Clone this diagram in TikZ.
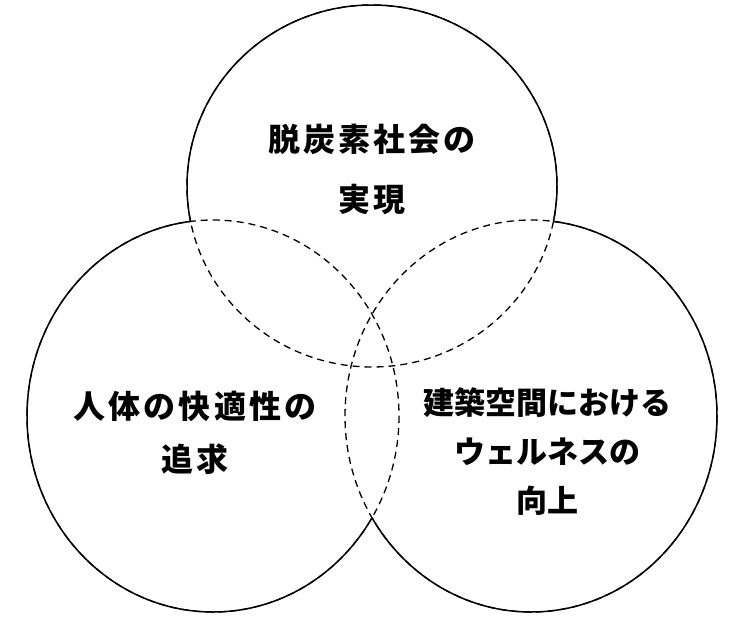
\documentclass[tikz,border=0pt]{standalone}
\usepackage{fontspec}
\usepackage{tikz}
\newfontfamily\jp{Noto Sans CJK JP}[LetterSpace=10]
\newfontfamily\jptight{Noto Sans CJK JP}
\newcommand\ringtop{(372,186) ellipse [x radius=185, y radius=181]}
\newcommand\ringleft{(213,416) ellipse [x radius=186, y radius=196]}
\newcommand\ringright{(531,416) ellipse [x radius=186, y radius=196]}

\begin{document}
\begin{tikzpicture}[x=1pt,y=-1pt,
  ring/.style={line width=1.5pt},
  overlap/.style={line width=1.3pt,dash pattern=on 7pt off 5pt},
  goal/.style={font=\jp\bfseries\fontsize{32}{#1}\selectfont,align=center,inner sep=0pt}]
\useasboundingbox (0,0) rectangle (746,629);
% dashed arcs inside the other circles
\draw[overlap] \ringtop;
\draw[overlap] \ringleft;
\draw[overlap] \ringright;
% solid arcs outside the other circles
\begin{scope}[even odd rule]
\clip (-5,-5) rectangle (751,634) \ringleft;
\clip (-5,-5) rectangle (751,634) \ringright;
\draw[ring] \ringtop;
\end{scope}
\begin{scope}[even odd rule]
\clip (-5,-5) rectangle (751,634) \ringtop;
\clip (-5,-5) rectangle (751,634) \ringright;
\draw[ring] \ringleft;
\end{scope}
\begin{scope}[even odd rule]
\clip (-5,-5) rectangle (751,634) \ringtop;
\clip (-5,-5) rectangle (751,634) \ringleft;
\draw[ring] \ringright;
\end{scope}
% texts
\node[goal=60] (decarb) at (372,169) {脱炭素社会の\\実現};
\node[goal=53] (comfort) at (195,433) {人体の快適性の\\追求};
\node[goal=49,font=\jptight\bfseries\fontsize{31}{49}\selectfont] (wellness) at (547,452) {建築空間における\\ウェルネスの\\向上};
\end{tikzpicture}
\end{document}
